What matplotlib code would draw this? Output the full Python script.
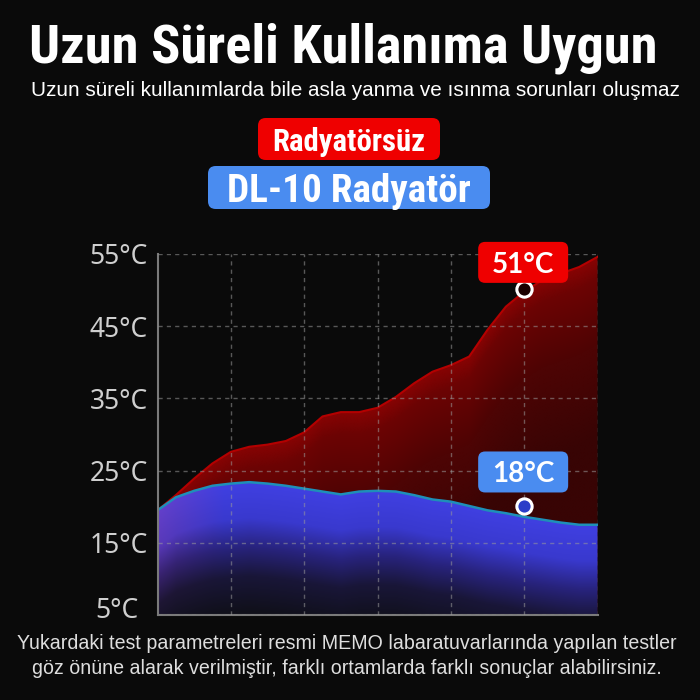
"""
Radyatör karşılaştırma grafiği
Uzun süreli kullanımda sıcaklık eğrileri (Radyatörsüz / DL-10 Radyatör)
"""

import numpy as np
import matplotlib
matplotlib.use("Agg")  # ekransız çalıştırma
import matplotlib.pyplot as plt
from matplotlib import font_manager
from matplotlib.patches import Polygon, FancyBboxPatch
from matplotlib.transforms import ScaledTranslation

# --- veri ---
time = [0, 0.25, 0.5, 0.75, 1.0, 1.25, 1.5, 1.75, 2.0, 2.25, 2.5, 2.75, 3.0,
        3.25, 3.5, 3.75, 4.0, 4.25, 4.5, 4.75, 5.0, 5.25, 5.5, 5.75, 6.0]
radyatorsuz = [19.5, 21.6, 23.9, 26.0, 27.6, 28.3, 28.6, 29.1, 30.3, 32.5, 33.1, 33.1, 33.7,
               35.2, 37.1, 38.7, 39.6, 40.8, 44.5, 47.7, 49.8, 51.4, 52.3, 53.2, 54.6]
dl10 = [19.5, 21.3, 22.2, 22.9, 23.2, 23.4, 23.2, 22.9, 22.5, 22.1, 21.7, 22.1, 22.2,
        22.1, 21.6, 21.0, 20.7, 20.1, 19.5, 19.1, 18.6, 18.2, 17.8, 17.5, 17.5]
y_ticks = [5, 15, 25, 35, 45, 55]
y_labels = ["5°C", "15°C", "25°C", "35°C", "45°C", "55°C"]
mark_x = 5.0
mark_red = 50.1
mark_blue = 20.1
label_red = "51°C"
label_blue = "18°C"

title = "Uzun Süreli Kullanıma Uygun"
subtitle = "Uzun süreli kullanımlarda bile asla yanma ve ısınma sorunları oluşmaz"
tag_red = "Radyatörsüz"
tag_blue = "DL-10 Radyatör"
note = ["Yukardaki test parametreleri resmi MEMO labaratuvarlarında yapılan testler",
        "göz önüne alarak verilmiştir, farklı ortamlarda farklı sonuçlar alabilirsiniz."]

BG = "#0a0a0a"
RED = "#ef0000"
BLUE = "#4a8cf0"

names = {f.name for f in font_manager.fontManager.ttflist}


def pick(*fams):
    for f in fams:
        if f in names:
            return f
    return "DejaVu Sans"


F_TITLE = pick("Liberation Sans Narrow", "Roboto Condensed", "Roboto", "Liberation Sans")
F_TEXT = pick("Liberation Sans Narrow", "Liberation Sans", "Roboto")
F_TICK = pick("Noto Sans", "Open Sans", "DejaVu Sans")
F_LABEL = pick("Lato", "Inter", "Roboto")

W = H = 700
fig = plt.figure(figsize=(7, 7), dpi=100, facecolor=BG)
renderer = fig.canvas.get_renderer()


def fx(x):
    return x / W


def fy(y):
    return 1 - y / H


def fit(t, width_px):
    w = t.get_window_extent(renderer).width
    t.set_fontsize(t.get_fontsize() * width_px / w)


# --- başlıklar ---
t = fig.text(fx(343), fy(63), title, color="white", fontsize=34, fontweight="heavy",
             family=F_TITLE, ha="center", va="baseline")
fit(t, 627)
t = fig.text(fx(355), fy(96), subtitle, color="white", fontsize=13,
             family=F_TEXT, ha="center", va="baseline")
fit(t, 650)


def tag(x0, y0, x1, y1, color, text, size, width_px):
    box = FancyBboxPatch((fx(x0), fy(y1)), fx(x1 - x0), (y1 - y0) / H,
                         boxstyle="round,pad=0,rounding_size=0.011",
                         transform=fig.transFigure, fc=color, ec="none")
    fig.patches.append(box)
    tt = fig.text(fx((x0 + x1) / 2), fy((y0 + y1) / 2), text, color="white",
                  fontsize=size, fontweight="bold", family=F_TITLE,
                  ha="center", va="center_baseline")
    fit(tt, width_px)


tag(258, 118, 440, 160, RED, tag_red, 17, 153)
tag(208, 166, 490, 209, BLUE, tag_blue, 24, 244)

# --- grafik ---
ax = fig.add_axes([fx(157.5), fy(615), fx(597.5) - fx(157.5), (615 - 254) / H])
ax.set_facecolor(BG)
ax.set_xlim(0, 6)
ax.set_ylim(5, 55)

gx = np.linspace(0, 6, 600)
gt = np.linspace(5, 55, 600)


def gradient(curve, stops_d, stops_rgb):
    top = np.interp(gx, time, curve)
    d = top[None, :] - gt[:, None]
    img = np.ones((len(gt), len(gx), 4))
    for c in range(3):
        img[..., c] = np.interp(d, stops_d, [s[c] / 255 for s in stops_rgb])
    return img


def area(curve, img, z):
    verts = np.column_stack([np.r_[time, time[::-1]],
                             np.r_[curve, np.full(len(time), 5.0)]])
    patch = Polygon(verts, closed=True, fc="none", ec="none", transform=ax.transData)
    ax.add_patch(patch)
    im = ax.imshow(img, extent=[0, 6, 5, 55], origin="lower", aspect="auto",
                   zorder=z, interpolation="bilinear")
    im.set_clip_path(patch)


red_img = gradient(radyatorsuz, [0, 3, 12, 25],
                   [(135, 3, 3), (108, 3, 3), (78, 4, 4), (56, 4, 4)])
area(radyatorsuz, red_img, 1)
ax.plot(time, radyatorsuz, color="#b30000", lw=1.5, zorder=1.2)

blue_img = gradient(dl10, [0, 5, 9, 13, 18],
                    [(64, 64, 226), (57, 57, 206), (40, 35, 125), (25, 22, 56), (16, 16, 26)])
# sol tarafta hafif mor geçiş
tint = np.clip(1 - gx / 0.9, 0, 1)[None, :] * np.clip(blue_img[..., 2] - 0.1, 0, 1)
blue_img[..., 0] = np.clip(blue_img[..., 0] + 0.18 * tint, 0, 1)
blue_img[..., 2] = np.clip(blue_img[..., 2] - 0.12 * tint, 0, 1)
area(dl10, blue_img, 1.5)
ax.plot(time, dl10, color="#1e8fb8", lw=1.8, zorder=1.7)

ax.set_yticks(y_ticks)
ax.set_yticklabels(y_labels, family=F_TICK, fontsize=19, color="#cfcfcf")
ax.set_xticks([1, 2, 3, 4, 5, 6])
ax.set_xticklabels([])
ax.tick_params(length=0, pad=7)
# en alttaki etiket referansta biraz yukarıda ve solda
lab0 = ax.get_yticklabels()[0]
lab0.set_transform(lab0.get_transform() + ScaledTranslation(-0.09, 0.08, fig.dpi_scale_trans))
ax.grid(True, color="#9a9a9a", alpha=0.55, lw=1, linestyle=(0, (3, 3)))
ax.set_axisbelow(False)
for s in ["top", "right"]:
    ax.spines[s].set_visible(False)
for s in ["left", "bottom"]:
    ax.spines[s].set_color("#7a7a7a")
    ax.spines[s].set_linewidth(1.5)

ax.plot([mark_x], [mark_red], "o", ms=11, mfc="#1a0000", mec="white", mew=2.2,
        zorder=5, clip_on=False)
ax.plot([mark_x], [mark_blue], "o", ms=11, mfc="#2b3dc8", mec="white", mew=2.2,
        zorder=5, clip_on=False)


def callout(y_val, dy, color, text):
    px, py = ax.transData.transform((mark_x, y_val))
    cx, cy = px - 1, py + dy
    box = FancyBboxPatch((cx - 45, cy - 20.5), 90, 41,
                         boxstyle="round,pad=0,rounding_size=7",
                         transform=None, fc=color, ec="none", zorder=6)
    fig.patches.append(box)
    tt = fig.text(cx / W, cy / H, text, color="white", fontsize=22, fontweight="bold",
                  family=F_LABEL, ha="center", va="center_baseline", zorder=7)
    fit(tt, 62)


callout(mark_red, 27, RED, label_red)
callout(mark_blue, 34, BLUE, label_blue)

# --- alt not (iki satır aynı punto) ---
lines = []
for i, line in enumerate(note):
    t = fig.text(fx(347), fy(649 + 25 * i), line, color="#dedede", fontsize=12,
                 family=F_TEXT, ha="center", va="baseline")
    lines.append(t)
fit(lines[0], 657)
lines[1].set_fontsize(lines[0].get_fontsize())

fig.savefig("out.png", dpi=100, facecolor=BG)
plt.close(fig)
